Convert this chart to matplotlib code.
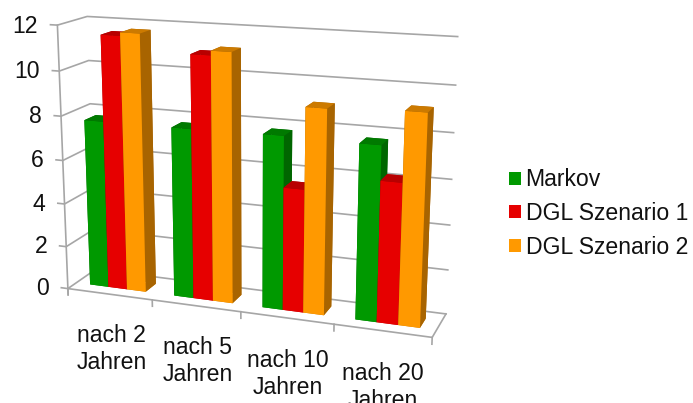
#!/usr/bin/env python3
"""Vergleich Markov / DGL als 3D-Saeulendiagramm."""
import matplotlib
matplotlib.use("Agg")
import matplotlib.pyplot as plt
from matplotlib.patches import Patch
from mpl_toolkits.mplot3d import proj3d

plt.rcParams["font.family"] = ["Liberation Sans", "DejaVu Sans"]

# ------------------------------------------------------------
# Data
# ------------------------------------------------------------
categories = ["nach 2\nJahren", "nach 5\nJahren", "nach 10\nJahren", "nach 20\nJahren"]
series_names = ["Markov", "DGL Szenario 1", "DGL Szenario 2"]
markov = [7.7, 7.7, 7.75, 7.7]
dgl_1 = [11.55, 10.95, 5.5, 6.2]
dgl_2 = [11.7, 11.15, 9.05, 9.2]
y_ticks = [0, 2, 4, 6, 8, 10, 12]

# ------------------------------------------------------------
# Styles
# ------------------------------------------------------------
FRONT = ["#009900", "#E60000", "#FF9900"]
SIDE = ["#006600", "#A80000", "#A86400"]
TOP = ["#007A00", "#B80000", "#CC7A00"]
GRID = "#A6A6A6"
TEXT = "#111111"
FS = 16.6

BAR_W = 0.2222
GROUP_OFF = 0.1667
BAR_Y0 = 0.3
BAR_D = 0.4

W, H = 693, 403
fig = plt.figure(figsize=(W / 100, H / 100), dpi=100)

S = 470
cx, cy = 245.5, 176
ax = fig.add_axes([(cx - S / 2) / W, (H - cy - S / 2) / H, S / W, S / H],
                  projection="3d", computed_zorder=False)
ax.set_box_aspect((392, 65, 281))
ax.set_proj_type("persp", focal_length=0.5)
ax.view_init(elev=15, azim=-70)
ax.set_axis_off()
ax.patch.set_alpha(0)
ax.set_xlim(0, 4)
ax.set_ylim(0, 1)
ax.set_zlim(0, 12)


def label3d(x, y, z, s, **kw):
    """Text at a 3D position, placed once in the axes' 2D coordinates."""
    px, py, _ = proj3d.proj_transform(x, y, z, ax.get_proj())
    ax.text2D(px, py, s, transform=ax.transData, fontsize=FS, color=TEXT, **kw)


# walls: gridlines on the left and back wall, ticks at the front
for v in y_ticks:
    ax.plot([-0.08, 0, 0, 4], [0, 0, 1, 1], [v, v, v, v], color=GRID, lw=1.2, zorder=1)
    label3d(-0.23, 0, v - 0.1, str(v), ha="right", va="center")

ax.plot([0, 0], [0, 0], [-0.3, 12], color=GRID, lw=1.2, zorder=1)
ax.plot([0, 4, 4], [0, 0, 1], [0, 0, 0], color=GRID, lw=1.2, zorder=1)
for i in range(5):
    ax.plot([i, i], [0, 0], [-0.3, 0], color=GRID, lw=1.2, zorder=1)

# bars, left to right so the nearer ones paint over
z = 2
for i in range(len(categories)):
    for j, vals in enumerate([markov, dgl_1, dgl_2]):
        colors = [TOP[j], TOP[j], FRONT[j], SIDE[j], SIDE[j], SIDE[j]]
        ax.bar3d(i + GROUP_OFF + j * BAR_W, BAR_Y0, 0, BAR_W, BAR_D, vals[i],
                 color=colors, shade=False, linewidth=0, zorder=z)
        z += 1

for i, label in enumerate(categories):
    label3d(i + 0.515, 0, -1.4, label, ha="center", va="top", linespacing=1.24, clip_on=False)

ax.set_xlim(0, 4)
ax.set_ylim(0, 1)
ax.set_zlim(0, 12)

handles = [Patch(facecolor=c, edgecolor="none") for c in FRONT]
fig.legend(handles, series_names, loc="center left", bbox_to_anchor=(509 / W, 1 - 213.5 / H),
           frameon=False, fontsize=FS, handlelength=0.5, handleheight=0.5,
           handletextpad=0.22, labelspacing=0.46, borderpad=0, borderaxespad=0,
           labelcolor=TEXT)

fig.savefig("out.png", dpi=100)
